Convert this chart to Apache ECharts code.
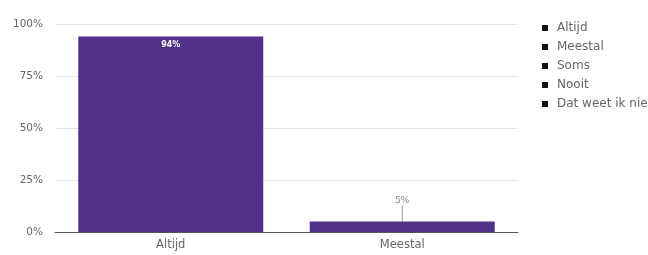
<!DOCTYPE html>
<html>
<head>
<meta charset="utf-8">
<script src="https://cdn.jsdelivr.net/npm/echarts@6/dist/echarts.min.js"></script>
<style>
  html, body { margin: 0; padding: 0; background: #fff; }
  #chart { width: 648px; height: 255px; }
</style>
</head>
<body>
<div id="chart"></div>
<script>
// categorieën op de x-as
const categories = ['Altijd', 'Meestal']
// antwoordopties in de legenda
const answers = ['Altijd', 'Meestal', 'Soms', 'Nooit', 'Dat weet ik niet']
// percentages per antwoord (alleen Altijd en Meestal hebben een balk)
const values = { 'Altijd': [94, null], 'Meestal': [null, 5], 'Soms': [], 'Nooit': [], 'Dat weet ik niet': [] }
const yTicks = [0, 25, 50, 75, 100]

const purple = '#52318a'
const font = '"DejaVu Sans", sans-serif'

const chart = echarts.init(document.getElementById('chart'))

const series = answers.map(name => ({
  name: name,
  type: 'bar',
  stack: 'all',
  barWidth: 185,
  data: values[name],
  itemStyle: { color: purple },
  label: name === 'Altijd'
    ? { show: true, position: 'insideTop', distance: 4, color: '#fff', fontSize: 8, fontWeight: 'bold', fontFamily: font, formatter: '{c}%' }
    : { show: true, position: 'top', distance: 4, color: '#888', fontSize: 9, fontFamily: font, formatter: '{c}%' },
  labelLayout: name === 'Meestal' ? { dy: -12 } : undefined,
  labelLine: name === 'Meestal' ? { show: true, lineStyle: { color: '#999', width: 1 } } : undefined
}))

chart.setOption({
  animation: false,
  textStyle: { fontFamily: font },
  grid: { left: 55, right: 130, top: 24, bottom: 23 },
  legend: {
    orient: 'vertical',
    left: 537,
    top: 16,
    itemGap: 5,
    itemWidth: 6,
    itemHeight: 6,
    icon: 'rect',
    data: answers,
    itemStyle: { color: '#111' },
    textStyle: { color: '#666', fontSize: 12, lineHeight: 14, fontFamily: font, padding: [0, 0, 0, 4] }
  },
  xAxis: {
    type: 'category',
    data: categories,
    axisLine: { lineStyle: { color: '#555', width: 1 } },
    axisTick: { show: false },
    axisLabel: { color: '#666', fontSize: 11.5, margin: 7 }
  },
  yAxis: {
    type: 'value',
    min: yTicks[0],
    max: yTicks[yTicks.length - 1],
    interval: 25,
    axisLine: { show: false },
    axisTick: { show: false },
    splitLine: { lineStyle: { color: '#e6e6e6' } },
    axisLabel: { color: '#666', fontSize: 10.5, margin: 12, formatter: '{value}%' }
  },
  series: series
})
</script>
</body>
</html>
